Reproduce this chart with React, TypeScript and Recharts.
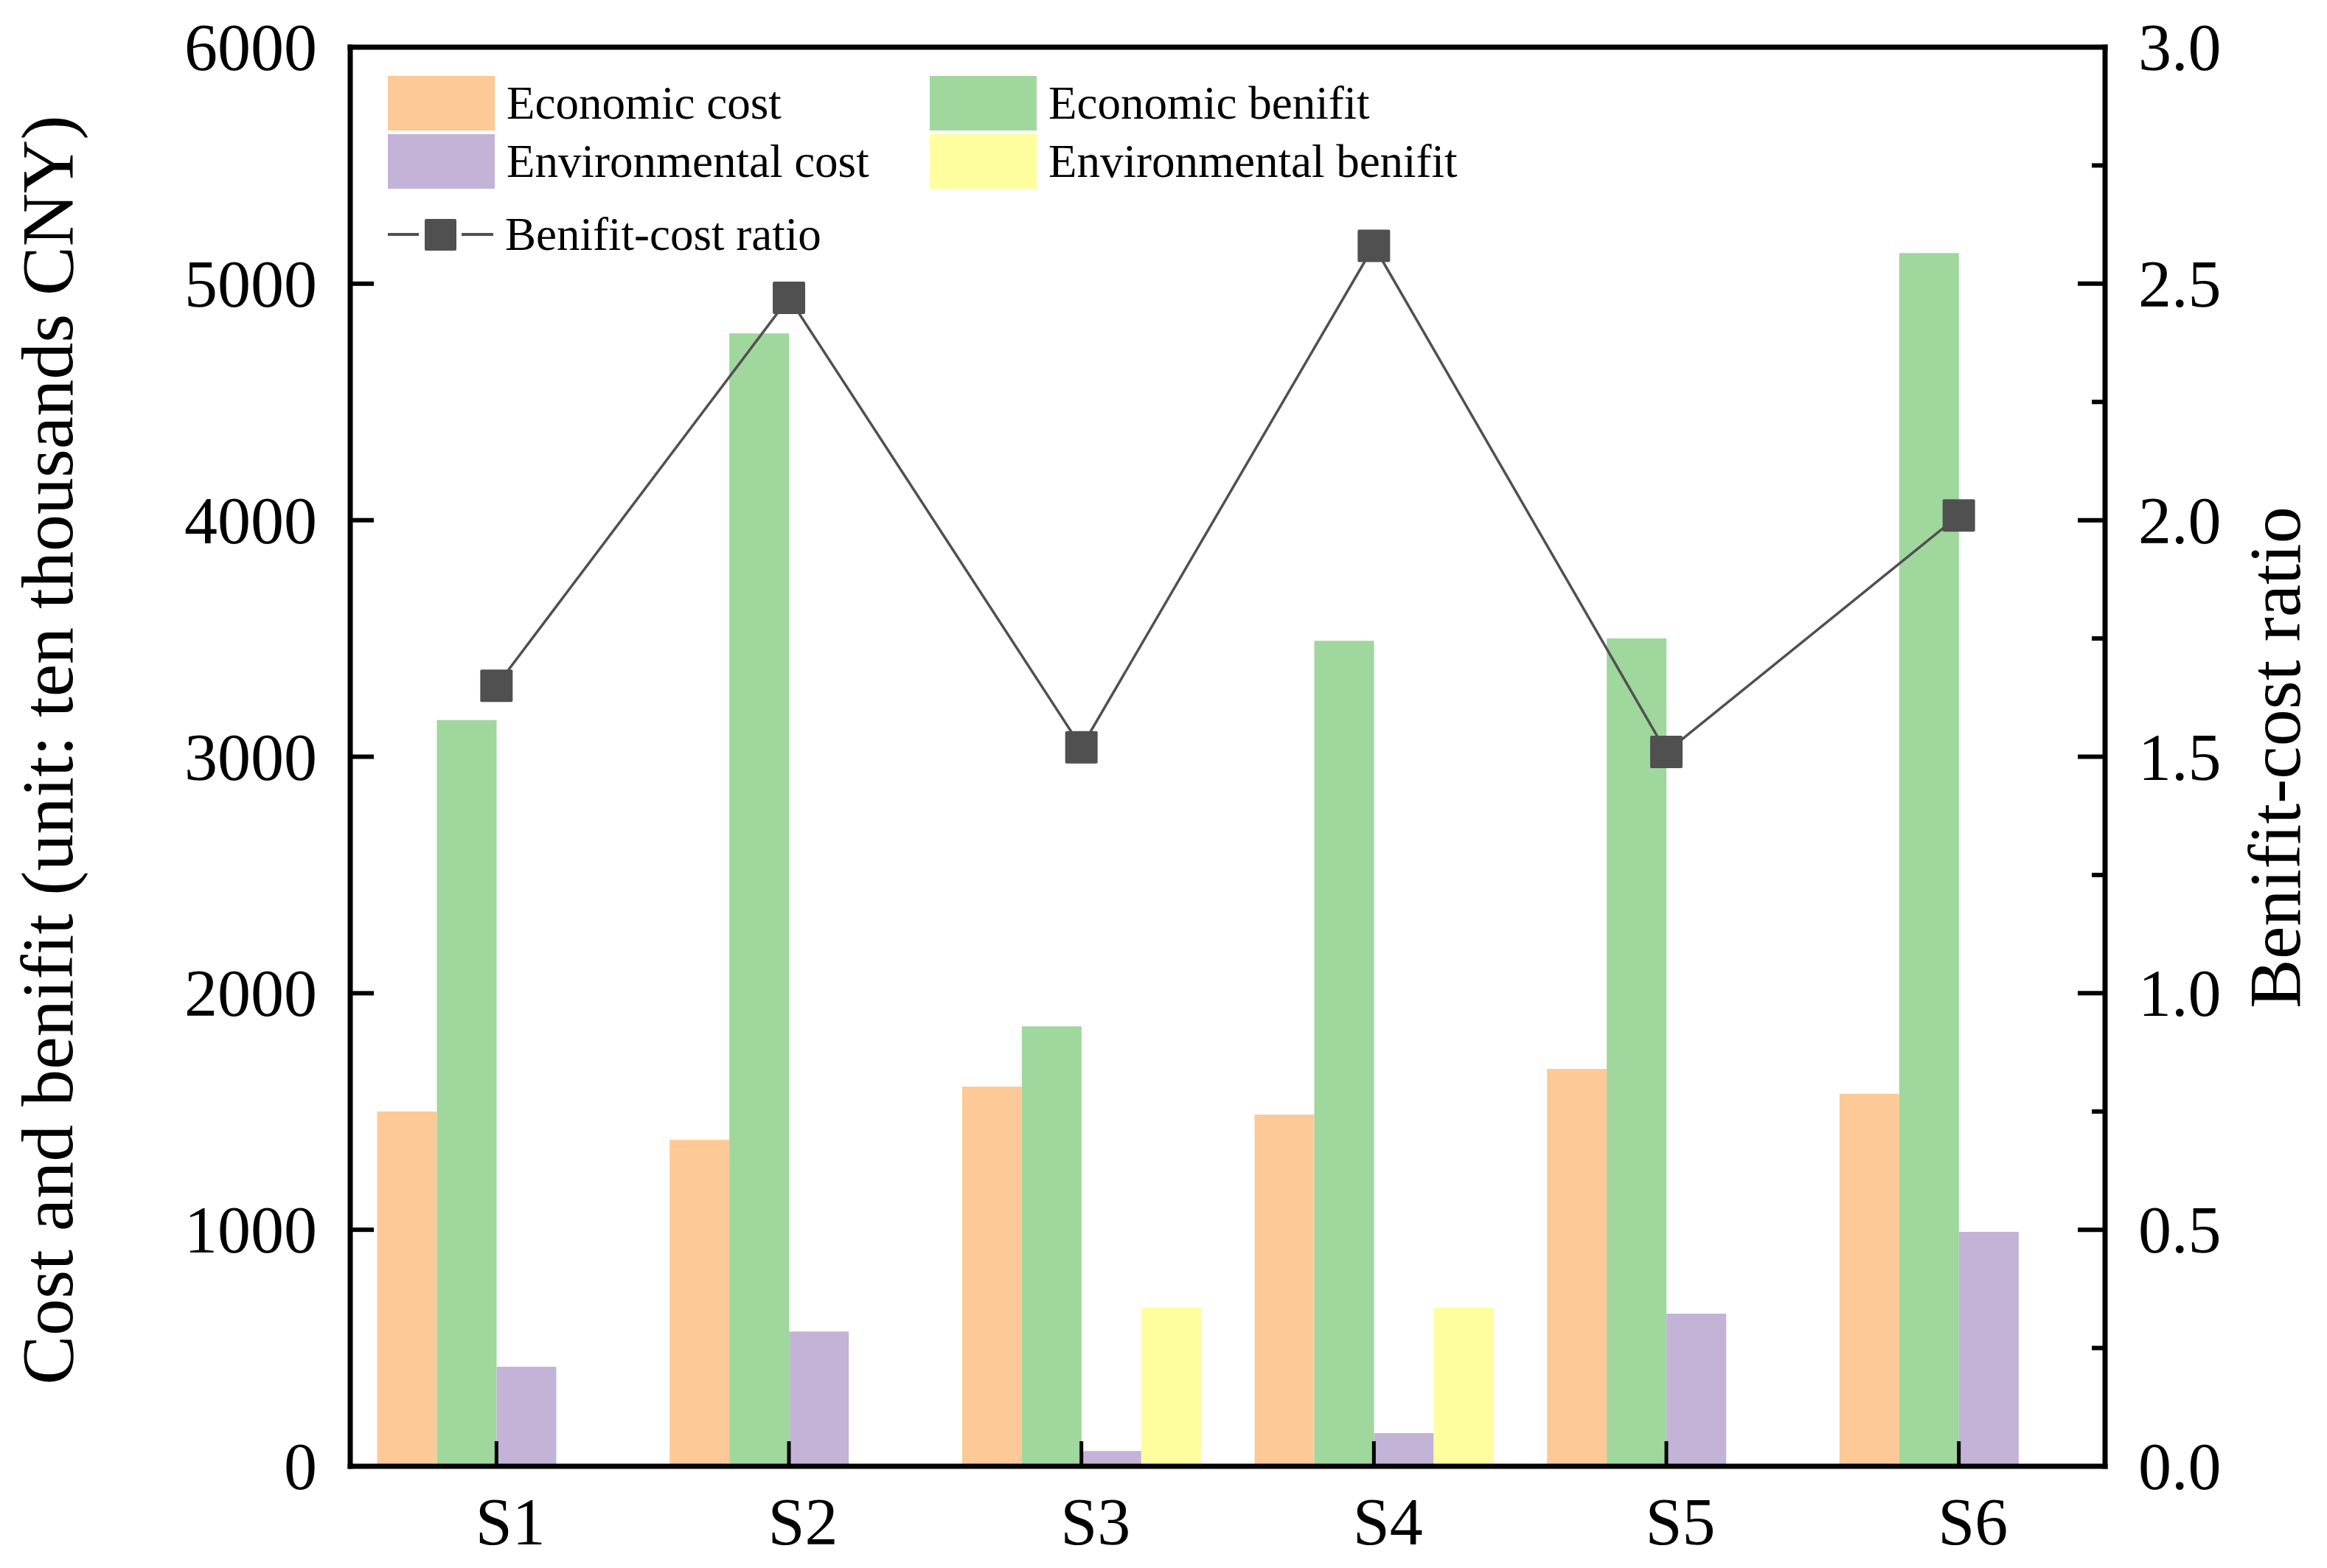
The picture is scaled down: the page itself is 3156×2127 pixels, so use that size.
import React from 'react';
import { ComposedChart, Bar, Line, XAxis, YAxis, ReferenceLine } from 'recharts';

const categories = ['S1', 'S2', 'S3', 'S4', 'S5', 'S6'];
const economicCost = [1500, 1380, 1605, 1487, 1680, 1575];
const economicBenifit = [3155, 4790, 1860, 3490, 3500, 5130];
const environmentalCost = [421, 570, 65, 140, 645, 991];
const environmentalBenifit = [0, 0, 670, 670, 0, 0];
const ratio = [1.65, 2.47, 1.52, 2.58, 1.51, 2.01];

const leftTicks = [0, 1000, 2000, 3000, 4000, 5000, 6000];
const rightTicks = [0, 0.25, 0.5, 0.75, 1, 1.25, 1.5, 1.75, 2, 2.25, 2.5, 2.75, 3];

const COLORS = {
  economicCost: '#FCC997',
  economicBenifit: '#9FD79C',
  environmentalCost: '#C3B3D6',
  environmentalBenifit: '#FFFE9E',
  ratio: '#505050',
};

const FONT = '"Liberation Serif", "Times New Roman", serif';

const data = categories.map((name, i) => ({
  name,
  economicCost: economicCost[i],
  economicBenifit: economicBenifit[i],
  environmentalCost: environmentalCost[i],
  environmentalBenifit: environmentalBenifit[i],
  ratio: ratio[i],
}));

const axisLine = { stroke: '#000', strokeWidth: 7, strokeLinecap: 'square' as const };

// ticks point inward, labels sit outside
const LeftTick = (props: any) => {
  const { x, y, payload } = props;
  return (
    <g>
      <line x1={x} x2={x + 32} y1={y} y2={y} stroke="#000" strokeWidth={6} />
      <text x={x - 45} y={y} dy={31} textAnchor="end" fontSize={90} fontFamily={FONT} fill="#000">
        {payload.value}
      </text>
    </g>
  );
};

const RightTick = (props: any) => {
  const { x, y, payload } = props;
  const major = Math.abs(payload.value * 2 - Math.round(payload.value * 2)) < 1e-6;
  return (
    <g>
      <line x1={x} x2={x - (major ? 37 : 18)} y1={y} y2={y} stroke="#000" strokeWidth={6} />
      {major && (
        <text x={x + 45} y={y} dy={31} textAnchor="start" fontSize={90} fontFamily={FONT} fill="#000">
          {payload.value.toFixed(1)}
        </text>
      )}
    </g>
  );
};

const BottomTick = (props: any) => {
  const { x, y, payload } = props;
  return (
    <g>
      <line x1={x} x2={x} y1={y} y2={y - 34} stroke="#000" strokeWidth={5} />
      <text x={x + 19} y={y + 106} textAnchor="middle" fontSize={90} fontFamily={FONT} fill="#000">
        {payload.value}
      </text>
    </g>
  );
};

const LeftTitle = (props: any) => {
  const { viewBox } = props;
  const cx = viewBox.x + 98;
  const cy = viewBox.y + viewBox.height / 2 - 9;
  return (
    <text x={cx} y={cy} transform={`rotate(-90, ${cx}, ${cy})`} textAnchor="middle" fontSize={100} fontFamily={FONT} fill="#000">
      Cost and benifit (unit: ten thousands CNY)
    </text>
  );
};

const RightTitle = (props: any) => {
  const { viewBox } = props;
  const cx = viewBox.x + 264;
  const cy = viewBox.y + viewBox.height / 2 + 1;
  return (
    <text x={cx} y={cy} transform={`rotate(-90, ${cx}, ${cy})`} textAnchor="middle" fontSize={100} fontFamily={FONT} fill="#000">
      Benifit-cost ratio
    </text>
  );
};

const SquareDot = (props: any) => {
  const { cx, cy, index } = props;
  return <rect key={`dot-${index}`} x={cx - 22} y={cy - 22} width={44} height={44} rx={2} fill={COLORS.ratio} />;
};

const barItems = [
  { key: 'economicCost', label: 'Economic cost' },
  { key: 'economicBenifit', label: 'Economic benifit' },
  { key: 'environmentalCost', label: 'Environmental cost' },
  { key: 'environmentalBenifit', label: 'Environmental benifit' },
];

const Legend = () => (
  <svg width={2200} height={380} style={{ position: 'absolute', left: 0, top: 0, pointerEvents: 'none' }}>
    {barItems.map((item, i) => {
      const col = i % 2;
      const row = Math.floor(i / 2);
      const sx = 526 + col * 735;
      const sy = 103 + row * 79;
      return (
        <g key={item.key}>
          <rect x={sx} y={sy} width={145} height={74} fill={(COLORS as any)[item.key]} />
          <text x={sx + 161} y={sy + 58} fontSize={63} fontFamily={FONT} fill="#000">
            {item.label}
          </text>
        </g>
      );
    })}
    <line x1={526} x2={568} y1={318} y2={318} stroke={COLORS.ratio} strokeWidth={4} />
    <line x1={626} x2={669} y1={318} y2={318} stroke={COLORS.ratio} strokeWidth={4} />
    <rect x={576} y={297} width={43} height={43} rx={2} fill={COLORS.ratio} />
    <text x={685} y={339} fontSize={63} fontFamily={FONT} fill="#000">
      Benifit-cost ratio
    </text>
  </svg>
);

export default function App() {
  return (
    <div style={{ position: 'absolute', left: 0, top: 0, width: 3156, height: 2127, background: '#fff' }}>
      <ComposedChart
        width={3156}
        height={2127}
        data={data}
        margin={{ top: 64, right: 0, bottom: 0, left: 0 }}
        barGap={0}
        barCategoryGap="9.2%"
      >
        <XAxis
          dataKey="name"
          xAxisId="bottom"
          height={138}
          axisLine={axisLine}
          tickLine={false}
          tickSize={0}
          tickMargin={0}
          tick={<BottomTick />}
          interval={0}
        />
        <YAxis
          yAxisId="left"
          orientation="left"
          width={475}
          domain={[0, 6000]}
          ticks={leftTicks}
          interval={0}
          axisLine={axisLine}
          tickLine={false}
          tickSize={0}
          tickMargin={0}
          tick={<LeftTick />}
          label={<LeftTitle />}
        />
        <YAxis
          yAxisId="right"
          orientation="right"
          width={301}
          domain={[0, 3]}
          ticks={rightTicks}
          interval={0}
          axisLine={axisLine}
          tickLine={false}
          tickSize={0}
          tickMargin={0}
          tick={<RightTick />}
          label={<RightTitle />}
        />
        <ReferenceLine yAxisId="left" xAxisId="bottom" y={6000} stroke="#000" strokeWidth={7} strokeLinecap="square" />
        {barItems.map((item) => (
          <Bar
            key={item.key}
            xAxisId="bottom"
            yAxisId="left"
            dataKey={item.key}
            fill={(COLORS as any)[item.key]}
            isAnimationActive={false}
          />
        ))}
        <Line
          xAxisId="bottom"
          yAxisId="right"
          type="linear"
          dataKey="ratio"
          stroke={COLORS.ratio}
          strokeWidth={3.5}
          dot={<SquareDot />}
          activeDot={false}
          isAnimationActive={false}
        />
      </ComposedChart>
      <Legend />
    </div>
  );
}
